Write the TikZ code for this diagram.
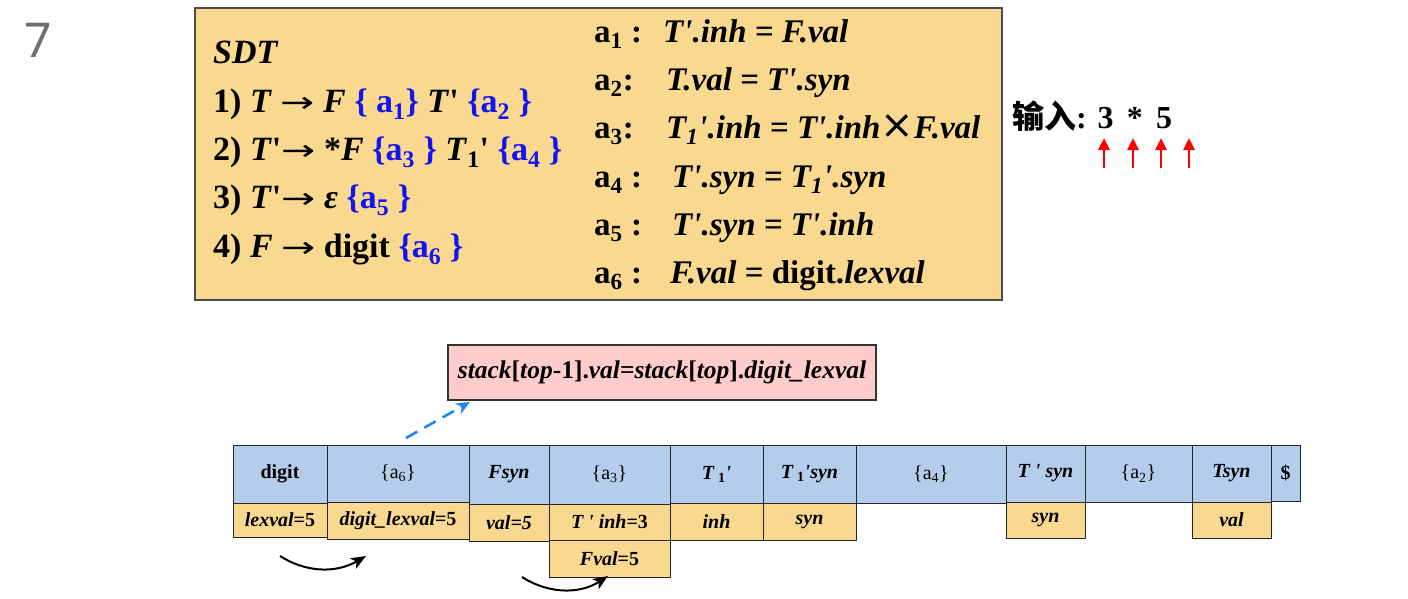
\documentclass[tikz,border=0pt]{standalone}
\usepackage{graphicx}
\usepackage{fontspec}
\setmainfont{Liberation Serif}
\newfontfamily\cjk{Noto Sans CJK SC}
\newfontfamily\numfont{Noto Sans}
\newfontfamily\dejavu{DejaVu Sans}
\usetikzlibrary{arrows.meta}
\definecolor{gold}{HTML}{F8D98F}
\definecolor{lblue}{HTML}{B4CDEA}
\definecolor{pinkbox}{HTML}{FFCCCC}
\definecolor{dashblue}{HTML}{1E88F0}
\definecolor{gnum}{HTML}{6E6E6E}
\definecolor{actblue}{HTML}{1414F0}
\newcommand\bi[1]{\textbf{\textit{#1}}}
\newcommand\sbs[1]{\textsubscript{#1}}
\newcommand\pr{\textquotesingle}
\newcommand\ab[1]{\textcolor{actblue}{#1}}
\newcommand\rarr{\scalebox{1.2}[0.85]{\dejavu\mdseries\upshape →}}
\newcommand\cell[7]{%
  \pgfmathsetmacro\cw{#5-#3}\pgfmathsetmacro\ch{#6-#4}%
  \node[#2,anchor=north west,minimum width=\cw pt,minimum height=\ch pt] (#1) at (#3,#4) {#7};}
\tikzset{
  txt/.style={anchor=base west,inner sep=0pt,font=\fontsize{34}{40}\selectfont},
  rtxt/.style={anchor=base west,inner sep=0pt,font=\fontsize{33}{40}\selectfont},
  base/.style={draw=black!85,line width=1pt,inner sep=0pt,outer sep=0pt,font=\fontsize{20}{24}\selectfont},
  bcell/.style={base,fill=lblue},
  ocell/.style={base,fill=gold},
  sdtbox/.style={draw=black!70,line width=1.2pt,fill=gold,inner sep=0pt,outer sep=0pt},
  pbox/.style={draw=black!80,line width=1.2pt,fill=pinkbox,inner sep=0pt,outer sep=0pt,font=\fontsize{25.5}{30}\selectfont},
  redarr/.style={red,line width=2.8pt,-{Triangle[length=12pt,width=11pt]}},
  curarr/.style={black,line width=2pt,-{Stealth[length=15pt,width=12pt,inset=4pt]}},
  dasharr/.style={dashblue,line width=2.6pt,dash pattern=on 13pt off 8pt,-{Stealth[length=14pt,width=12pt]}}
}
\begin{document}
\begin{tikzpicture}[x=1pt,y=-1pt]
\useasboundingbox (0,0) rectangle (1408,598);
% page number
\node[anchor=base west,inner sep=0pt,text=gnum,font=\numfont\fontsize{48}{50}\selectfont] (pnum) at (24,57) {7};
% SDT box
\cell{sdt}{sdtbox}{195}{8}{1002}{300}{}
\node[txt] (l0) at (213,63) {\bi{SDT}};
\node[txt] (l1) at (213,112) {\textbf{1) \textit{T} \rarr\ \textit{F} \ab{\{ a\sbs{1}\}} \textit{T}\pr\ \ab{\{a\sbs{2} \}}}};
\node[txt] (l2) at (213,160) {\textbf{2) \textit{T}\pr\rarr\ *\textit{F} \ab{\{a\sbs{3} \}} \textit{T}\sbs{1}\pr\ \ab{\{a\sbs{4} \}}}};
\node[txt] (l3) at (213,208) {\textbf{3) \textit{T}\pr\rarr\ \textit{ε} \ab{\{a\sbs{5} \}}}};
\node[txt] (l4) at (213,257) {\textbf{4) \textit{F} \rarr\ digit \ab{\{a\sbs{6} \}}}};
% actions
\node[rtxt] (k1) at (594,42) {\textbf{a\sbs{1} :}};
\node[rtxt] (v1) at (663,42) {\bi{T\pr.inh = F.val}};
\node[rtxt] (k2) at (594,90) {\textbf{a\sbs{2}:}};
\node[rtxt] (v2) at (666,90) {\bi{T.val = T\pr.syn}};
\node[rtxt] (k3) at (594,138) {\textbf{a\sbs{3}:}};
\node[rtxt] (v3) at (666,138) {\bi{T\sbs{1}\pr.inh = T\pr.inh}{\dejavu\fontsize{40}{40}\selectfont ×}\bi{F.val}};
\node[rtxt] (k4) at (594,187) {\textbf{a\sbs{4} :}};
\node[rtxt] (v4) at (672,187) {\bi{T\pr.syn = T\sbs{1}\pr.syn}};
\node[rtxt] (k5) at (594,235) {\textbf{a\sbs{5} :}};
\node[rtxt] (v5) at (672,235) {\bi{T\pr.syn = T\pr.inh}};
\node[rtxt] (k6) at (594,283) {\textbf{a\sbs{6} :}};
\node[rtxt] (v6) at (670,283) {\bi{F.val} \textbf{= digit.}\bi{lexval}};
% input
\node[anchor=base west,inner sep=0pt,font=\fontsize{32}{38}\selectfont] (inp) at (1012,128) {\textbf{{\cjk\bfseries 输入}: 3 \,*\, 5}};
\foreach \i/\x in {1/1104,2/1133,3/1161,4/1189}{
  \coordinate (rb\i) at (\x,168);
  \coordinate (rt\i) at (\x,138);
  \draw[redarr] (rb\i) -- (rt\i);
}
% pink box
\cell{pink}{pbox}{448}{345}{876}{400}{\bi{stack}\textbf{[}\bi{top}\textbf{-1].}\bi{val}\textbf{=}\bi{stack}\textbf{[}\bi{top}\textbf{].}\bi{digit\_lexval}}
% blue row
\cell{digit}{bcell}{233}{445}{327}{503}{\textbf{digit}}
\cell{a6}{bcell}{327}{445}{469}{502}{\{a\sbs{6}\}}
\cell{fsyn}{bcell}{469}{445}{549}{504}{\bi{Fsyn}}
\cell{a3}{bcell}{549}{445}{670}{504}{\{a\sbs{3}\}}
\cell{t1}{bcell}{670}{445}{763}{503}{\bi{T}\textbf{\,\sbs{1}}\bi{\pr}}
\cell{t1syn}{bcell}{763}{445}{856}{503}{\bi{T}\textbf{\,\sbs{1}}\bi{\pr syn}}
\cell{a4}{bcell}{856}{445}{1006}{503}{\{a\sbs{4}\}}
\cell{tpsyn}{bcell}{1006}{445}{1085}{502}{\bi{T \pr\ syn}}
\cell{a2}{bcell}{1085}{445}{1192}{502}{\{a\sbs{2}\}}
\cell{tsyn}{bcell}{1192}{445}{1271}{502}{\bi{Tsyn}}
\cell{dollar}{bcell}{1271}{445}{1300}{501}{\textbf{\$}}
% orange row
\cell{lexval}{ocell}{233}{503}{327}{537}{\bi{lexval}\textbf{=5}}
\cell{dlex}{ocell}{327}{502}{469}{539}{\bi{digit\_lexval}\textbf{=5}}
\cell{val5}{ocell}{469}{504}{549}{541}{\bi{val=5}}
\cell{inh3}{ocell}{549}{504}{670}{540}{\bi{T \pr\ inh}\textbf{=3}}
\cell{fval}{ocell}{549}{540}{670}{577}{\bi{Fval}\textbf{=5}}
\cell{inh}{ocell}{670}{503}{763}{540}{\bi{inh}}
\cell{syn1}{ocell}{763}{503}{856}{540}{\bi{syn}}
\cell{syn2}{ocell}{1006}{502}{1085}{538}{\bi{syn}}
\cell{val}{ocell}{1192}{502}{1271}{538}{\bi{val}}
% dashed arrow
\coordinate (ds) at (406,438);
\coordinate (de) at (470,402);
\draw[dasharr] (ds) -- (de);
% curved arrows
\coordinate (c1s) at (280,556);
\coordinate (c1e) at (366,556);
\draw[curarr] (c1s) .. controls (305,572) and (335,574) .. (c1e);
\coordinate (c2s) at (522,577);
\coordinate (c2e) at (608,576);
\draw[curarr] (c2s) .. controls (545,592) and (577,596) .. (c2e);
\end{tikzpicture}
\end{document}
